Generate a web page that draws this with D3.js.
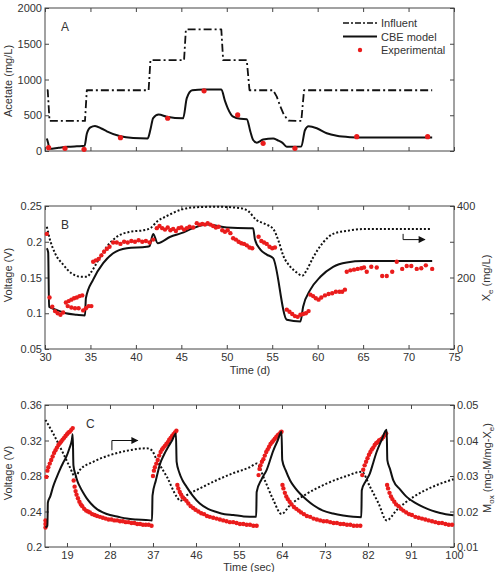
<!DOCTYPE html>
<html>
<head>
<meta charset="utf-8">
<script src="https://cdn.jsdelivr.net/npm/d3@7"></script>
<style>
  body { margin: 0; background: #fff; }
  svg text { font-family: "Liberation Sans", Arial, sans-serif; fill: #333; }
</style>
</head>
<body>
<div id="chart"></div>
<script>
// ---------- panel A : acetate (mg/L) vs time (d) ----------
const aInfluent = [[30.2,850],[30.3,850],[30.5,420],[34.4,420],[34.6,850],[41.4,850],[41.6,1270],[45.3,1270],[45.5,1700],[49.4,1700],[49.6,1270],[52.2,1270],[52.5,850],[55.1,850],[55.5,760],[55.9,620],[56.3,503],[56.8,425],[58.2,420],[58.5,850],[72.6,850]];
const aModel = [[30.2,175],[30.35,110],[30.5,30],[31.5,45],[32.5,58],[33.5,66],[34.35,72],[34.6,240],[35.0,330],[35.5,350],[36.2,315],[36.8,275],[38.3,205],[39.7,182],[41.3,176],[41.6,300],[41.9,460],[42.5,510],[43.4,480],[45.2,458],[45.6,740],[46.2,850],[47.5,860],[49.4,860],[49.8,700],[50.1,600],[50.7,480],[51.5,450],[52.2,445],[52.6,270],[52.9,154],[53.3,117],[54.0,160],[55.1,175],[55.6,150],[56.1,117],[56.6,60],[58.2,62],[58.6,290],[59.0,345],[59.9,318],[61.0,248],[62.1,212],[63.6,193],[65.0,188],[72.6,188]];
const aExp = [[30.4,46],[32.2,37],[34.3,24],[38.3,187],[43.5,458],[47.5,841],[51.2,505],[54.0,108],[57.5,38],[64.3,200],[72.1,200]];
const aYTicks = [0, 500, 1000, 1500, 2000];
const legendLabels = ['Influent', 'CBE model', 'Experimental'];

// ---------- panel B : voltage (V) and Xe (mg/L) vs time (d) ----------
const bModel = [[30.2,0.191],[30.35,0.185],[30.45,0.109],[31.2,0.105],[32.3,0.100],[33.5,0.098],[34.4,0.097],[34.5,0.121],[35.3,0.147],[36.4,0.170],[37.5,0.184],[39.0,0.191],[41.2,0.193],[41.5,0.194],[41.9,0.211],[42.4,0.198],[43.8,0.207],[45.0,0.212],[46.3,0.219],[47.8,0.224],[50.0,0.220],[52.4,0.219],[52.9,0.219],[53.1,0.203],[53.7,0.189],[54.4,0.182],[55.1,0.177],[56.6,0.091],[58.1,0.0885],[58.4,0.109],[59.2,0.133],[60.3,0.151],[61.7,0.165],[63.2,0.171],[65.0,0.173],[72.6,0.173]];
const bXe = [[30.2,342],[30.5,310],[31.1,268],[32.0,236],[32.9,212],[34.0,202],[34.6,202],[35.1,216],[35.9,250],[36.8,286],[37.9,314],[39.4,328],[40.8,332],[41.6,338],[42.3,356],[43.4,372],[44.9,389],[46.3,396],[48.9,398],[51.5,394],[52.4,385],[53.2,362],[54.2,350],[55.1,336],[55.7,302],[56.2,262],[57.0,230],[57.7,214],[58.3,205],[58.8,221],[59.5,256],[60.6,298],[61.7,322],[63.6,332],[65.4,336],[72.4,336]];
const bExp = [[30.2,0.211],[30.5,0.122],[30.8,0.109],[31.1,0.103],[31.4,0.100],[31.7,0.098],[32.0,0.101],[32.3,0.115],[32.6,0.117],[32.9,0.119],[33.2,0.121],[33.5,0.122],[33.8,0.124],[34.1,0.125],[32.5,0.110],[32.9,0.108],[33.3,0.107],[33.7,0.107],[34.2,0.104],[34.5,0.107],[34.8,0.110],[35.1,0.110],[35.3,0.172],[35.6,0.174],[35.9,0.176],[36.2,0.181],[36.5,0.186],[36.8,0.190],[37.1,0.193],[37.5,0.199],[37.9,0.199],[38.3,0.197],[38.7,0.200],[39.1,0.199],[39.5,0.201],[39.9,0.200],[40.3,0.202],[40.7,0.200],[41.1,0.201],[41.5,0.199],[41.9,0.203],[42.3,0.219],[42.6,0.222],[42.9,0.219],[43.2,0.217],[43.5,0.220],[43.8,0.216],[44.1,0.218],[44.4,0.215],[44.7,0.219],[45.0,0.220],[45.3,0.217],[45.6,0.219],[45.9,0.221],[46.3,0.220],[46.7,0.226],[47.0,0.224],[47.3,0.225],[47.6,0.224],[47.9,0.226],[48.2,0.224],[48.5,0.222],[48.8,0.220],[49.1,0.221],[49.5,0.216],[49.8,0.214],[50.1,0.216],[50.4,0.212],[50.7,0.205],[51.0,0.203],[51.3,0.200],[51.6,0.198],[51.9,0.197],[52.2,0.195],[52.5,0.192],[52.8,0.191],[53.5,0.207],[53.8,0.201],[54.1,0.199],[54.4,0.197],[54.7,0.193],[55.0,0.191],[55.3,0.192],[56.6,0.105],[56.9,0.102],[57.2,0.099],[57.5,0.096],[57.8,0.095],[58.1,0.098],[58.4,0.099],[58.7,0.100],[59.0,0.103],[59.2,0.126],[59.5,0.124],[59.8,0.121],[60.1,0.119],[60.4,0.122],[60.8,0.125],[61.2,0.127],[61.6,0.128],[62.0,0.130],[62.4,0.130],[62.7,0.130],[63.0,0.133],[63.2,0.158],[63.6,0.160],[64.0,0.161],[64.4,0.162],[64.8,0.163],[65.1,0.164],[65.4,0.158],[65.9,0.165],[66.5,0.164],[67.1,0.152],[67.6,0.152],[68.2,0.158],[68.7,0.172],[69.3,0.162],[69.8,0.166],[70.3,0.166],[70.9,0.162],[71.4,0.163],[71.9,0.167],[72.6,0.162]];
const bArrow = [[69.4,322],[69.4,306],[71.8,306]];
const dayTicks = [30, 35, 40, 45, 50, 55, 60, 65, 70, 75];
const bYTicks = [0.05, 0.1, 0.15, 0.2, 0.25];
const bY2Ticks = [0, 100, 200, 300, 400];

// ---------- panel C : voltage (V) and Mox vs time (sec) ----------
const cModel = [[14.5,0.222],[14.9,0.224],[15.0,0.250],[15.5,0.257],[16.1,0.268],[16.8,0.278],[17.5,0.287],[18.2,0.295],[18.9,0.302],[19.5,0.311],[20.0,0.320],[20.2,0.327],[20.35,0.292],[20.8,0.281],[21.2,0.274],[21.7,0.268],[22.4,0.261],[23.1,0.255],[24.0,0.249],[25.2,0.243],[26.5,0.239],[28.0,0.236],[29.7,0.234],[31.5,0.232],[33.5,0.231],[35.5,0.2305],[36.8,0.230],[36.9,0.258],[37.6,0.275],[38.5,0.294],[39.3,0.304],[40.2,0.313],[41.0,0.320],[41.8,0.328],[41.95,0.296],[42.5,0.284],[43.2,0.275],[44.0,0.268],[45.3,0.258],[46.8,0.249],[48.5,0.243],[50.3,0.2395],[52.0,0.237],[53.8,0.236],[56.0,0.2345],[58.6,0.234],[58.7,0.262],[59.7,0.276],[60.8,0.287],[62.2,0.309],[63.1,0.320],[63.9,0.330],[64.05,0.298],[64.8,0.286],[65.7,0.275],[66.7,0.267],[67.8,0.260],[69.2,0.253],[70.6,0.247],[72.6,0.241],[74.7,0.2377],[76.8,0.2355],[78.9,0.234],[80.6,0.2335],[80.7,0.264],[81.5,0.274],[82.4,0.283],[83.1,0.295],[83.8,0.307],[84.8,0.320],[85.9,0.332],[86.05,0.298],[86.6,0.288],[87.3,0.275],[88.7,0.265],[90.1,0.2565],[91.8,0.250],[93.6,0.245],[95.4,0.241],[97.1,0.2384],[99.9,0.2357]];
const cMox = [[14.5,0.0458],[16.1,0.0420],[18.2,0.0364],[19.6,0.0325],[20.7,0.0298],[21.7,0.0317],[24.5,0.0340],[28.0,0.0359],[31.5,0.0371],[35.7,0.0378],[36.7,0.0373],[37.8,0.0345],[39.9,0.0298],[42.0,0.0241],[42.7,0.0230],[44.0,0.0245],[46.8,0.0265],[50.3,0.0288],[53.8,0.0308],[57.3,0.0325],[58.7,0.0335],[60.4,0.0288],[62.2,0.0232],[63.9,0.0193],[65.7,0.0218],[69.2,0.0250],[73.4,0.0279],[77.5,0.0300],[80.7,0.0312],[82.4,0.0270],[84.2,0.0223],[85.9,0.0175],[88.0,0.0204],[91.5,0.0241],[95.6,0.0270],[99.9,0.0291]];
const cExp = [
  [14.5,0.222],[14.5,0.226],[14.5,0.230],[14.7,0.279],[14.9,0.286],[15.1,0.290],[15.4,0.294],[15.7,0.298],[16.0,0.302],[16.3,0.306],[16.6,0.309],[16.9,0.312],[17.2,0.315],[17.5,0.317],[17.8,0.319],[18.1,0.321],[18.4,0.323],[18.7,0.325],[19.0,0.327],[19.3,0.329],[19.6,0.330],[19.9,0.332],[20.2,0.334],
  [20.4,0.275],[20.6,0.268],[20.8,0.263],[21.0,0.259],[21.3,0.255],[21.6,0.251],[21.9,0.248],[22.2,0.246],[22.6,0.243],[23.0,0.241],[23.4,0.240],[23.8,0.239],[24.3,0.237],[24.8,0.236],[25.3,0.235],[25.9,0.234],[26.5,0.233],[27.1,0.232],[27.7,0.231],[28.3,0.231],[28.9,0.230],[29.5,0.230],[30.1,0.229],[30.7,0.229],[31.3,0.228],[31.9,0.228],[32.5,0.227],[33.1,0.227],[33.7,0.226],[34.3,0.226],[34.9,0.225],[35.5,0.225],[36.1,0.225],[36.7,0.224],
  [37.0,0.280],[37.2,0.286],[37.4,0.290],[37.7,0.294],[38.0,0.298],[38.3,0.303],[38.6,0.307],[38.9,0.310],[39.2,0.312],[39.5,0.314],[39.8,0.316],[40.1,0.318],[40.4,0.321],[40.7,0.323],[41.0,0.325],[41.3,0.327],[41.6,0.329],[41.9,0.331],
  [42.1,0.270],[42.3,0.266],[42.6,0.262],[42.9,0.259],[43.2,0.256],[43.6,0.254],[44.0,0.252],[44.4,0.249],[44.9,0.246],[45.4,0.244],[45.9,0.242],[46.5,0.240],[47.1,0.238],[47.7,0.237],[48.3,0.235],[48.9,0.234],[49.6,0.233],[50.3,0.232],[51.0,0.231],[51.7,0.230],[52.4,0.229],[53.1,0.228],[53.8,0.228],[54.5,0.227],[55.2,0.226],[55.9,0.226],[56.6,0.225],[57.3,0.225],[58.0,0.224],[58.7,0.224],
  [59.1,0.281],[59.3,0.288],[59.5,0.292],[59.8,0.296],[60.1,0.299],[60.4,0.303],[60.7,0.307],[61.0,0.310],[61.3,0.313],[61.6,0.316],[61.9,0.318],[62.2,0.320],[62.5,0.322],[62.8,0.324],[63.1,0.326],[63.4,0.327],[63.7,0.329],[63.9,0.330],
  [64.1,0.270],[64.3,0.266],[64.6,0.261],[64.9,0.257],[65.2,0.254],[65.6,0.251],[66.0,0.248],[66.5,0.245],[67.0,0.243],[67.5,0.241],[68.0,0.239],[68.6,0.237],[69.2,0.235],[69.9,0.234],[70.6,0.232],[71.3,0.231],[72.0,0.230],[72.7,0.229],[73.4,0.229],[74.1,0.228],[74.8,0.227],[75.5,0.227],[76.2,0.226],[76.9,0.226],[77.6,0.225],[78.3,0.225],[79.0,0.224],[79.7,0.224],[80.4,0.224],
  [80.8,0.281],[81.0,0.287],[81.3,0.292],[81.6,0.296],[81.9,0.300],[82.2,0.304],[82.5,0.307],[82.8,0.310],[83.1,0.312],[83.4,0.315],[83.7,0.317],[84.0,0.318],[84.3,0.320],[84.6,0.321],[84.9,0.322],[85.2,0.324],[85.5,0.326],[85.8,0.328],
  [86.0,0.270],[86.2,0.266],[86.5,0.261],[86.8,0.257],[87.1,0.254],[87.5,0.251],[87.9,0.248],[88.4,0.246],[88.9,0.243],[89.4,0.241],[90.0,0.239],[90.6,0.237],[91.2,0.236],[91.9,0.234],[92.6,0.233],[93.3,0.232],[94.0,0.231],[94.7,0.230],[95.4,0.229],[96.1,0.228],[96.8,0.227],[97.5,0.227],[98.2,0.226],[98.9,0.225],[99.6,0.225]
];
const cArrow = [[28.4,0.309],[28.4,0.320],[33.8,0.320]];
const secTicks = [19, 28, 37, 46, 55, 64, 73, 82, 91, 100];
const cYTicks = [0.2, 0.24, 0.28, 0.32, 0.36];
const cY2Ticks = [0.01, 0.02, 0.03, 0.04, 0.05];

// ---------- layout ----------
const W = 497, H = 572;
const L = 45, R = 454;
const red = '#ea1c1c';
const fmt = d3.format('~g');

const svg = d3.select('#chart').append('svg')
    .attr('width', W)
    .attr('height', H);

svg.append('defs').append('marker')
    .attr('id', 'arrow')
    .attr('viewBox', '0 0 10 10')
    .attr('refX', 9).attr('refY', 5)
    .attr('markerWidth', 8).attr('markerHeight', 7)
    .attr('markerUnits', 'userSpaceOnUse')
    .attr('orient', 'auto')
    .append('path')
    .attr('d', 'M0,0 L10,5 L0,10 Z')
    .attr('fill', '#111');

// draw box + inward ticks for one panel
function drawAxes(x, y, top, bottom, o) {
    const g = svg.append('g').attr('class', 'axes');
    // bottom
    const xb = d3.axisBottom(x).tickValues(o.xTicks).tickSize(-4).tickPadding(4)
        .tickFormat(o.xLabels ? fmt : '');
    g.append('g').attr('transform', `translate(0,${bottom})`).call(xb);
    // top (mirror)
    g.append('g').attr('transform', `translate(0,${top})`)
        .call(d3.axisTop(x).tickValues(o.xTicks).tickSize(-4).tickFormat(''));
    // left
    g.append('g').attr('transform', `translate(${L},0)`)
        .call(d3.axisLeft(y).tickValues(o.yTicks).tickSize(-4).tickPadding(3).tickFormat(fmt));
    // right: second axis or mirror
    if (o.y2) {
        g.append('g').attr('transform', `translate(${R},0)`)
            .call(d3.axisRight(o.y2).tickValues(o.y2Ticks).tickSize(-4).tickPadding(3)
                .tickFormat(o.y2Format || fmt));
    } else {
        g.append('g').attr('transform', `translate(${R},0)`)
            .call(d3.axisRight(y).tickValues(o.yTicks).tickSize(-4).tickFormat(''));
    }
    g.selectAll('.domain').remove();
    g.selectAll('.tick line').attr('stroke', '#444');
    g.selectAll('.tick text').attr('font-size', 11).attr('fill', '#333')
        .attr('font-family', '"Liberation Sans", Arial, sans-serif');
    g.append('rect')
        .attr('x', L).attr('y', top)
        .attr('width', R - L).attr('height', bottom - top)
        .attr('fill', 'none').attr('stroke', '#444').attr('stroke-width', 1);
}

function drawLine(data, x, y, style) {
    svg.append('path')
        .datum(data)
        .attr('fill', 'none')
        .attr('stroke', '#111')
        .attr('stroke-width', style.width || 2)
        .attr('stroke-dasharray', style.dash || null)
        .attr('stroke-linejoin', 'round')
        .attr('d', d3.line().x(d => x(d[0])).y(d => y(d[1])).curve(style.curve || d3.curveMonotoneX));
}

function drawDots(data, x, y, r) {
    svg.append('g').selectAll('circle')
        .data(data)
        .join('circle')
        .attr('cx', d => x(d[0]))
        .attr('cy', d => y(d[1]))
        .attr('r', r)
        .attr('fill', red);
}

function drawArrow(data, x, y) {
    svg.append('path')
        .datum(data)
        .attr('fill', 'none')
        .attr('stroke', '#111')
        .attr('stroke-width', 1)
        .attr('marker-end', 'url(#arrow)')
        .attr('d', d3.line().x(d => x(d[0])).y(d => y(d[1])));
}

function yLabel(xpos, ypos, parts) {
    const t = svg.append('text')
        .attr('transform', `translate(${xpos},${ypos}) rotate(-90)`)
        .attr('text-anchor', 'middle')
        .attr('font-size', 11);
    parts.forEach(p => {
        t.append('tspan')
            .attr('dy', p.sub ? 3 : (p.after ? -3 : 0))
            .attr('font-size', p.sub ? 8 : 11)
            .text(p.t);
    });
}

// ---------- panel A ----------
const xA = d3.scaleLinear().domain([30, 75]).range([L, R]);
const yA = d3.scaleLinear().domain([0, 2000]).range([151, 8]);
drawAxes(xA, yA, 8, 151, {xTicks: dayTicks, xLabels: false, yTicks: aYTicks});
drawLine(aInfluent, xA, yA, {dash: '8,3,2,3', width: 1.8, curve: d3.curveLinear});
drawLine(aModel, xA, yA, {width: 2});
drawDots(aExp, xA, yA, 2.6);
svg.append('text').attr('x', 61).attr('y', 31).attr('font-size', 12).text('A');
yLabel(12, 81, [{t: 'Acetate (mg/L)'}]);

// legend
const lg = svg.append('g').attr('transform', 'translate(343,23)');
legendLabels.forEach((lab, i) => {
    const row = lg.append('g').attr('transform', `translate(0,${i * 13.5})`);
    if (i < 2) {
        row.append('line').attr('x1', 0).attr('x2', 34).attr('y1', 0).attr('y2', 0)
            .attr('stroke', '#111').attr('stroke-width', i === 0 ? 1.6 : 2)
            .attr('stroke-dasharray', i === 0 ? '6,2,2,2' : null);
    } else {
        row.append('circle').attr('cx', 17).attr('cy', 0).attr('r', 2.2).attr('fill', red);
    }
    row.append('text').attr('x', 38).attr('y', 4).attr('font-size', 11).text(lab);
});

// ---------- panel B ----------
const xB = d3.scaleLinear().domain([30, 75]).range([L, R]);
const yB = d3.scaleLinear().domain([0.05, 0.25]).range([349, 206]);
const yB2 = d3.scaleLinear().domain([0, 400]).range([349, 206]);
drawAxes(xB, yB, 206, 349, {
    xTicks: dayTicks, xLabels: true, yTicks: bYTicks,
    y2: yB2, y2Ticks: bY2Ticks, y2Format: d => (d % 200 === 0 ? d : '')
});
drawLine(bXe, xB, yB2, {dash: '2,2', width: 2});
drawLine(bModel, xB, yB, {width: 2});
drawDots(bExp, xB, yB, 2.2);
drawArrow(bArrow, xB, yB2);
svg.append('text').attr('x', 61).attr('y', 229).attr('font-size', 12).text('B');
yLabel(12, 275, [{t: 'Voltage (V)'}]);
yLabel(490, 278, [{t: 'X'}, {t: 'e', sub: true}, {t: ' (mg/L)', after: true}]);
svg.append('text').attr('x', 250).attr('y', 374).attr('text-anchor', 'middle')
    .attr('font-size', 11).text('Time (d)');

// ---------- panel C ----------
const xC = d3.scaleLinear().domain([14.4, 100]).range([L, R]);
const yC = d3.scaleLinear().domain([0.2, 0.36]).range([547, 405]);
const yC2 = d3.scaleLinear().domain([0.01, 0.05]).range([547, 405]);
drawAxes(xC, yC, 405, 547, {
    xTicks: secTicks, xLabels: true, yTicks: cYTicks,
    y2: yC2, y2Ticks: cY2Ticks
});
drawLine(cMox, xC, yC2, {dash: '2,2', width: 2});
drawDots(cExp, xC, yC, 2.2);
drawLine(cModel, xC, yC, {width: 2});
drawArrow(cArrow, xC, yC);
svg.append('text').attr('x', 86).attr('y', 428).attr('font-size', 12).text('C');
yLabel(12, 473, [{t: 'Voltage (V)'}]);
yLabel(491, 468, [{t: 'M'}, {t: 'ox', sub: true}, {t: ' (mg-M/mg-X', after: true}, {t: 'e', sub: true}, {t: ')', after: true}]);
svg.append('text').attr('x', 249).attr('y', 571).attr('text-anchor', 'middle')
    .attr('font-size', 11).text('Time (sec)');
</script>
</body>
</html>
